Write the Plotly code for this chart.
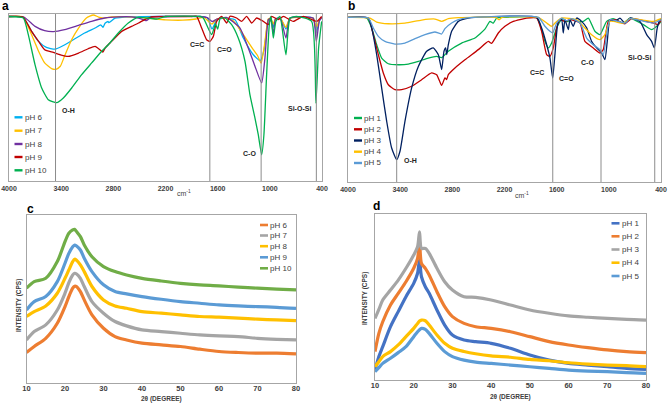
import plotly.graph_objects as go

# ---------------- data ----------------
FTIR_TICKS = [4000, 3400, 2800, 2200, 1600, 1000, 400]
XRD_TICKS = [10, 20, 30, 40, 50, 60, 70, 80]

# panel a: FTIR, pH 6-10 (wavenumber cm-1, transmittance a.u.)
A_NAMES = ["pH 6", "pH 7", "pH 8", "pH 9", "pH 10"]
A_COLORS = ["#00B0F0", "#FFC000", "#7030A0", "#C00000", "#00B050"]
A_WN_PH6 = [4000, 3840, 3740, 3660, 3570, 3470, 3380, 3260, 3130, 3010, 2945, 2920, 2895, 2860, 2850, 2780, 2600,
            2200, 1800, 1720, 1665, 1610, 1520, 1400, 1305, 1190, 1110, 1065, 1018, 990, 960, 935, 880, 815, 770,
            600, 500, 465, 430, 400]
A_T_PH6 = [98.5, 98.2, 89.6, 83.6, 80.0, 79.0, 81.0, 84.6, 88.6, 91.6, 93.5, 92.0, 94.5, 95.5, 94.8, 97.5, 98.3,
           98.5, 98.5, 97.8, 91.0, 96.5, 97.5, 96.5, 85.6, 75.6, 72.0, 79.0, 96.5, 97.5, 92.0, 97.0, 97.5, 91.0, 97.5,
           98.3, 97.5, 89.0, 96.0, 98.0]
A_WN_PH7 = [4000, 3840, 3740, 3660, 3590, 3510, 3460, 3410, 3355, 3280, 3200, 3110, 3030, 2970, 2900, 2820, 2600,
            2400, 2200, 2000, 1850, 1760, 1665, 1610, 1520, 1420, 1305, 1190, 1140, 1100, 1060, 1018, 990, 960, 935,
            880, 815, 770, 600, 500, 465, 430, 400]
A_T_PH7 = [98.5, 98.2, 87.6, 77.7, 70.7, 67.3, 66.9, 68.7, 75.6, 84.6, 91.6, 97.6, 99.4, 98.2, 97.5, 98.3, 98.3,
           97.5, 96.5, 96.3, 97.0, 98.0, 94.0, 97.0, 97.5, 96.0, 87.6, 78.6, 75.0, 70.5, 82.0, 97.0, 97.5, 94.0, 97.0,
           97.5, 92.0, 97.5, 98.0, 97.5, 92.0, 96.5, 98.0]
A_WN_PH8 = [4000, 3830, 3700, 3590, 3490, 3360, 3200, 3050, 2900, 2740, 2590, 2510, 2420, 2360, 2200, 1800, 1720,
            1660, 1610, 1500, 1343, 1248, 1171, 1094, 1056, 1018, 990, 960, 935, 880, 815, 770, 600, 500, 465, 430, 400]
A_T_PH8 = [98.5, 98.2, 92.6, 90.0, 89.4, 90.6, 93.2, 95.6, 97.6, 98.3, 98.3, 97.6, 96.0, 98.3, 98.5, 98.5, 97.8,
           95.5, 97.0, 98.0, 91.6, 79.6, 68.7, 58.7, 73.7, 96.5, 97.5, 88.0, 97.0, 97.5, 85.6, 97.5, 98.3, 97.5, 83.6,
           96.0, 98.0]
A_WN_PH9 = [4000, 3840, 3740, 3660, 3590, 3490, 3410, 3320, 3200, 3090, 3010, 2955, 2922, 2896, 2820, 2705, 2590,
            2510, 2440, 2360, 2200, 1900, 1842, 1784, 1727, 1689, 1650, 1612, 1554, 1497, 1459, 1382, 1324, 1267,
            1209, 1152, 1075, 1018, 979, 903, 845, 730, 615, 462, 404]
A_T_PH9 = [98.5, 98.2, 89.6, 83.6, 78.6, 77.0, 75.6, 74.6, 76.6, 79.2, 80.6, 78.6, 77.2, 79.5, 83.6, 89.6, 92.6,
           94.6, 96.6, 98.2, 98.5, 98.5, 98.6, 91.6, 84.6, 83.6, 86.6, 95.6, 98.6, 94.6, 98.6, 97.6, 95.6, 98.6,
           94.6, 97.6, 95.6, 93.6, 98.6, 96.6, 98.6, 95.6, 98.6, 95.6, 98.6]
A_WN_PH10 = [4000, 3835, 3778, 3701, 3624, 3548, 3452, 3375, 3279, 3164, 3049, 2934, 2858, 2743, 2628, 2513, 2302,
             2200, 1800, 1765, 1669, 1625, 1600, 1570, 1516, 1439, 1363, 1286, 1229, 1171, 1133, 1094, 1068, 1037,
             1006, 987, 960, 930, 884, 815, 768, 692, 519, 470, 439, 404]
A_T_PH10 = [98.5, 97.6, 87.6, 69.7, 55.7, 48.7, 46.9, 49.7, 55.7, 63.7, 70.7, 77.7, 81.6, 88.6, 94.6, 98.0, 97.0,
            98.5, 98.5, 97.6, 87.6, 94.0, 91.0, 97.5, 97.6, 93.6, 85.6, 71.7, 51.7, 37.7, 27.7, 15.7, 27.7, 63.7,
            93.6, 98.6, 85.6, 95.6, 98.6, 75.6, 97.6, 98.6, 95.6, 46.7, 79.6, 95.6]
A_WN = [A_WN_PH6, A_WN_PH7, A_WN_PH8, A_WN_PH9, A_WN_PH10]
A_T = [A_T_PH6, A_T_PH7, A_T_PH8, A_T_PH9, A_T_PH10]
A_BANDS = [3465, 1690, 1100, 465]

# panel b: FTIR, pH 1-5
B_NAMES = ["pH 1", "pH 2", "pH 3", "pH 4", "pH 5"]
B_COLORS = ["#00B050", "#C00000", "#002060", "#FFC000", "#5B9BD5"]
B_WN_PH1 = [4000, 3785, 3728, 3670, 3613, 3536, 3421, 3306, 3191, 3076, 2980, 2923, 2846, 2693, 2540, 2425, 2367,
            2330, 2290, 2200, 1830, 1792, 1735, 1696, 1658, 1600, 1543, 1480, 1420, 1360, 1294, 1236, 1160, 1102,
            1025, 949, 834, 757, 604, 508, 450, 400]
B_T_PH1 = [98.0, 97.6, 91.7, 81.7, 73.8, 70.4, 69.8, 70.2, 71.8, 73.8, 74.8, 74.0, 77.8, 82.7, 85.7, 91.0, 95.6,
           94.5, 97.6, 98.0, 98.0, 93.7, 83.7, 79.8, 82.7, 91.7, 96.6, 95.5, 97.0, 95.6, 95.6, 97.6, 89.7, 87.7,
           95.6, 97.2, 94.6, 97.6, 93.7, 90.7, 92.7, 95.6]
B_WN_PH2 = [4000, 3766, 3709, 3651, 3594, 3536, 3460, 3383, 3268, 3153, 3038, 2980, 2923, 2885, 2865, 2846, 2770,
            2655, 2501, 2386, 2348, 2271, 2195, 2099, 1945, 1830, 1773, 1715, 1677, 1639, 1600, 1562, 1505, 1447,
            1332, 1275, 1179, 1102, 1064, 1006, 930, 815, 738, 489, 432, 400]
B_T_PH2 = [98.0, 97.6, 87.7, 75.8, 64.9, 57.9, 55.0, 55.0, 57.0, 60.9, 64.9, 63.9, 57.5, 62.0, 61.0, 63.9, 67.9,
           72.8, 78.8, 83.7, 82.5, 88.7, 92.7, 95.6, 97.6, 97.6, 89.7, 75.8, 74.8, 79.8, 91.7, 96.6, 95.6, 96.6,
           94.6, 83.7, 79.8, 76.8, 78.8, 95.6, 96.6, 94.2, 97.2, 94.6, 93.7, 96.6]
B_WN_PH3 = [4000, 3766, 3728, 3670, 3613, 3555, 3498, 3440, 3402, 3345, 3268, 3191, 3095, 3019, 2961, 2923, 2896,
            2877, 2865, 2846, 2808, 2731, 2616, 2400, 1830, 1773, 1715, 1677, 1646, 1620, 1581, 1543, 1524, 1505,
            1466, 1447, 1409, 1370, 1313, 1255, 1198, 1140, 1083, 1045, 1018, 987, 930, 872, 815, 757, 642, 565,
            508, 477, 443, 412, 400]
B_T_PH3 = [98.0, 97.6, 91.7, 75.8, 56.0, 36.1, 20.2, 13.3, 18.3, 36.1, 56.0, 68.8, 77.8, 79.8, 75.8, 66.9, 77.8,
           79.8, 75.8, 81.7, 89.7, 95.6, 97.6, 98.3, 98.0, 91.7, 81.7, 73.8, 61.9, 75.8, 95.6, 96.6, 88.7, 96.6,
           90.7, 96.6, 92.7, 97.6, 95.6, 91.7, 83.7, 79.8, 76.8, 72.8, 83.7, 96.6, 95.6, 97.6, 94.6, 97.6, 95.6, 87.7,
           83.7, 79.8, 91.7, 96.6, 97.0]
B_WN_PH4 = [4000, 3747, 3670, 3536, 3345, 3153, 3000, 2923, 2846, 2731, 2300, 2262, 2230, 1811, 1715, 1658, 1600,
            1543, 1370, 1294, 1198, 1102, 1045, 987, 834, 757, 489, 400]
B_T_PH4 = [98.0, 97.6, 95.2, 94.2, 94.6, 96.4, 97.0, 95.6, 97.2, 97.8, 98.0, 96.6, 98.0, 98.0, 94.6, 92.7, 95.6,
           97.6, 96.6, 92.7, 87.7, 84.7, 87.7, 95.6, 94.6, 97.2, 95.6, 97.2]
B_WN_PH5 = [4000, 3766, 3709, 3651, 3575, 3460, 3345, 3229, 3115, 3000, 2923, 2885, 2808, 2731, 2655, 1811, 1735,
            1677, 1646, 1600, 1543, 1485, 1428, 1332, 1255, 1179, 1102, 1064, 1025, 987, 815, 757, 489, 400]
B_T_PH5 = [98.0, 97.6, 91.7, 86.7, 83.7, 82.1, 82.7, 85.3, 87.7, 89.3, 88.1, 91.3, 94.6, 96.6, 97.6, 98.0, 92.7,
           89.7, 88.7, 94.6, 97.6, 96.0, 97.2, 94.6, 85.7, 81.7, 78.8, 75.8, 87.7, 96.6, 94.6, 97.2, 94.6, 96.6]
B_WN = [B_WN_PH1, B_WN_PH2, B_WN_PH3, B_WN_PH4, B_WN_PH5]
B_T = [B_T_PH1, B_T_PH2, B_T_PH3, B_T_PH4, B_T_PH5]
B_BANDS = [3440, 1645, 1090, 472]

# panel c: XRD, pH 6-10 (2theta deg, intensity a.u.)
C_NAMES = ["pH 6", "pH 7", "pH 8", "pH 9", "pH 10"]
C_COLORS = ["#ED7D31", "#A5A5A5", "#FFC000", "#5B9BD5", "#70AD47"]
C_DEG = [10, 12, 15, 18, 20, 21, 22, 22.5, 23, 24, 25, 27, 30, 33, 36, 40, 45, 50, 55, 60, 65, 70, 75, 80]
C_PH6 = [17.9, 21.5, 26.4, 35.4, 45.3, 51.3, 56.3, 57.5, 57.3, 54.3, 49.3, 40.4, 32.4, 27.4, 25.4, 23.5, 22.5, 21.5,
         19.9, 18.5, 17.9, 17.5, 17.5, 17.1]
C_PH7 = [25.4, 30.4, 34.4, 43.3, 53.3, 59.6, 64.2, 65.2, 64.8, 62.2, 57.3, 48.3, 41.4, 36.4, 33.8, 31.4, 30.4, 29.4,
         28.4, 27.8, 27.4, 26.4, 25.8, 25.4]
C_PH8 = [39.4, 42.3, 45.7, 53.3, 62.2, 67.2, 72.2, 73.6, 73.0, 70.2, 66.2, 57.3, 49.3, 45.7, 44.3, 42.3, 41.4, 40.4,
         39.4, 39.0, 38.4, 37.8, 37.4, 37.0]
C_PH9 = [43.3, 48.3, 51.3, 60.2, 71.2, 77.1, 81.1, 82.1, 81.5, 79.1, 74.2, 66.2, 58.3, 54.3, 52.9, 51.3, 49.7, 48.3,
         47.3, 46.3, 45.7, 45.3, 44.9, 44.3]
C_PH10 = [56.3, 60.2, 62.2, 72.2, 84.1, 89.1, 91.1, 91.5, 90.1, 87.1, 82.1, 75.1, 69.2, 66.2, 64.2, 62.2, 60.6, 59.2,
          58.3, 57.7, 56.9, 56.3, 55.7, 55.3]
C_I = [C_PH6, C_PH7, C_PH8, C_PH9, C_PH10]

# panel d: XRD, pH 1-5
D_NAMES = ["pH 1", "pH 2", "pH 3", "pH 4", "pH 5"]
D_COLORS = ["#4472C4", "#ED7D31", "#A5A5A5", "#FFC000", "#5B9BD5"]
D_DEG = [10, 11, 12, 14, 16, 18, 20, 21, 21.5, 22, 23, 24, 26, 28, 30, 33, 36, 40, 45, 50, 55, 60, 65, 70, 75, 80]
D_PH1 = [6.0, 14.1, 20.1, 32.1, 41.2, 50.2, 58.2, 64.3, 72.3, 62.2, 56.2, 52.2, 42.2, 33.1, 27.1, 24.1, 23.1, 22.1,
         19.1, 15.1, 12.0, 10.0, 9.0, 8.0, 7.0, 6.4]
D_PH2 = [17.1, 28.1, 35.1, 45.2, 52.2, 59.2, 67.3, 73.3, 83.3, 70.3, 67.3, 63.3, 53.2, 44.2, 38.2, 34.1, 32.1, 31.1,
         29.1, 26.1, 23.1, 21.1, 19.5, 18.1, 17.1, 16.5]
D_PH3 = [37.1, 42.5, 48.2, 54.2, 60.2, 67.3, 75.3, 80.3, 89.2, 79.3, 79.3, 76.3, 67.3, 59.2, 54.2, 50.2, 49.8, 48.2,
         45.2, 42.2, 40.2, 38.6, 37.8, 37.1, 36.5, 36.1]
D_PH4 = [8.0, 11.0, 14.1, 17.1, 21.1, 26.1, 31.1, 34.1, 35.5, 36.1, 35.7, 33.1, 27.1, 22.1, 19.1, 17.2, 15.8, 14.5,
         13.7, 12.4, 11.6, 10.4, 9.6, 9.0, 8.6, 8.0]
D_PH5 = [5.0, 7.5, 10.0, 13.1, 16.5, 20.1, 26.1, 29.1, 30.3, 31.1, 30.5, 28.1, 22.1, 17.1, 14.1, 12.0, 10.8, 10.0,
         9.0, 8.0, 7.0, 6.0, 5.4, 5.0, 4.4, 4.0]
D_I = [D_PH1, D_PH2, D_PH3, D_PH4, D_PH5]

# ---------------- style ----------------
W, H = 668, 407
FONT = "Liberation Sans, Arial, sans-serif"
NARROW = "Liberation Sans Narrow, Arial Narrow, Liberation Sans, Arial"
TEXT = "#404040"
BOX = "#A6A6A6"
VLINE = "#8C8C8C"


def px(x):
    return x / W


def py(y):
    return 1 - y / H


fig = go.Figure()


def add_lines(xs_list, ys_list, names, colors, n, width, smooth):
    for xs, ys, name, color in zip(xs_list, ys_list, names, colors):
        fig.add_trace(go.Scatter(x=xs, y=ys, name=name, mode="lines", showlegend=False,
                                 xaxis="x" if n == 1 else f"x{n}", yaxis="y" if n == 1 else f"y{n}",
                                 line=dict(color=color, width=width, shape="spline", smoothing=smooth)))


def add_key(names, colors, x0, rows, thick):
    # compact Excel-style key: short swatch + label
    for name, color, yrow in zip(names, colors, rows):
        fig.add_shape(type="line", xref="paper", yref="paper", x0=px(x0), x1=px(x0 + 8), y0=py(yrow), y1=py(yrow),
                      line=dict(color=color, width=thick))
        fig.add_annotation(xref="paper", yref="paper", x=px(x0 + 8), y=py(yrow), text=name, showarrow=False,
                           xanchor="left", yanchor="middle", font=dict(family=FONT, size=8, color=TEXT))


def set_axes(n, xdom, ydom, xrange, ticks, tick_size, standoff):
    sfx = "" if n == 1 else str(n)
    fig.update_layout({
        f"xaxis{sfx}": dict(domain=xdom, range=xrange, anchor=f"y{sfx}", tickvals=ticks, ticks="",
                            automargin=False, showline=True, mirror=True, linecolor=BOX, linewidth=1,
                            showgrid=False, zeroline=False, ticklabelstandoff=standoff,
                            tickfont=dict(family=NARROW, size=tick_size, color=TEXT, weight="bold")),
        f"yaxis{sfx}": dict(domain=ydom, range=[0, 100], anchor=f"x{sfx}", showticklabels=False, ticks="",
                            automargin=False, showline=True, mirror=True, linecolor=BOX, linewidth=1,
                            showgrid=False, zeroline=False),
    })


def band_labels(n, items):
    sfx = "" if n == 1 else str(n)
    for txt, x, y in items:
        fig.add_annotation(xref=f"x{sfx}", yref=f"y{sfx}", x=x, y=y, text=txt, showarrow=False,
                           xanchor="center", yanchor="middle",
                           font=dict(family=FONT, size=7, color="#262626", weight="bold"))


def panel_letter(txt, x, y):
    fig.add_annotation(xref="paper", yref="paper", x=px(x), y=py(y), text=f"<b>{txt}</b>", showarrow=False,
                       xanchor="left", yanchor="middle", font=dict(family=FONT, size=12, color="#000000"))


def text_at(txt, x, y, size=7, angle=0, bold=False):
    fig.add_annotation(xref="paper", yref="paper", x=px(x), y=py(y), text=txt, showarrow=False, textangle=angle,
                       xanchor="center", yanchor="middle",
                       font=dict(family=FONT, size=size, color=TEXT, weight="bold" if bold else "normal"))


# panel a
set_axes(1, [px(9), px(322)], [py(181), py(14)], [4000, 400], FTIR_TICKS, 7, 1)
for b in A_BANDS:
    fig.add_shape(type="line", xref="x", yref="y domain", x0=b, x1=b, y0=0, y1=1, line=dict(color=VLINE, width=1))
add_lines(A_WN, A_T, A_NAMES, A_COLORS, 1, 1.3, 0.5)
band_labels(1, [("O-H", 3321, 42.5), ("C=C", 1842, 82.0), ("C=O", 1527, 78.6), ("C-O", 1236, 16.2),
                ("Si-O-Si", 654, 43.3)])
add_key(A_NAMES, A_COLORS, 14.5, [117.3, 130.7, 144.0, 157.0, 170.3], 2.4)
text_at("cm<sup>-1</sup>", 184, 193)
panel_letter("a", 0, 6)

# panel b
set_axes(2, [px(348), px(661)], [py(182), py(14)], [4000, 400], FTIR_TICKS, 7, 1)
for b in B_BANDS:
    fig.add_shape(type="line", xref="x2", yref="y2 domain", x0=b, x1=b, y0=0, y1=1, line=dict(color=VLINE, width=1))
add_lines(B_WN, B_T, B_NAMES, B_COLORS, 2, 1.3, 0.5)
band_labels(2, [("O-H", 3279, 12.7), ("C=C", 1830, 64.9), ("C=O", 1489, 61.9), ("C-O", 1248, 71.4),
                ("Si-O-Si", 650, 74.4)])
add_key(B_NAMES, B_COLORS, 354, [118.0, 129.3, 140.5, 151.7, 163.0], 2.4)
text_at("cm<sup>-1</sup>", 522, 195)
panel_letter("b", 346, 6)

# panel c
set_axes(3, [px(26.5), px(296)], [py(382.5), py(215)], [10, 80], XRD_TICKS, 7.5, -2)
add_lines([C_DEG] * 5, C_I, C_NAMES, C_COLORS, 3, 3.2, 0.8)
add_key(C_NAMES, C_COLORS, 260, [225.0, 235.5, 246.2, 257.3, 268.3], 2.6)
text_at("2θ (DEGREE)", 161, 399, size=6.5, bold=True)
text_at("INTENSITY (CPS)", 19, 306, size=6.5, angle=-90, bold=True)
panel_letter("c", 25, 209)

# panel d
set_axes(4, [px(375), px(646)], [py(380), py(214)], [10, 80], XRD_TICKS, 7.5, -2)
add_lines([D_DEG] * 5, D_I, D_NAMES, D_COLORS, 4, 3.2, 0.8)
add_key(D_NAMES, D_COLORS, 611.5, [223.3, 236.3, 249.5, 262.7, 276.0], 2.6)
text_at("2θ (DEGREE)", 510, 397, size=6.5, bold=True)
text_at("INTENSITY (CPS)", 365, 298, size=6.5, angle=-90, bold=True)
panel_letter("d", 371, 206)

fig.update_layout(width=W, height=H, autosize=False, margin=dict(l=0, r=0, t=0, b=0),
                  paper_bgcolor="white", plot_bgcolor="white", showlegend=False,
                  font=dict(family=FONT, color=TEXT))

# the page body has a default 8px margin; drop it so the figure sits at the window origin
fig.write_html("out.html", config={"displayModeBar": False},
               post_script="document.body.style.margin='0px';")
